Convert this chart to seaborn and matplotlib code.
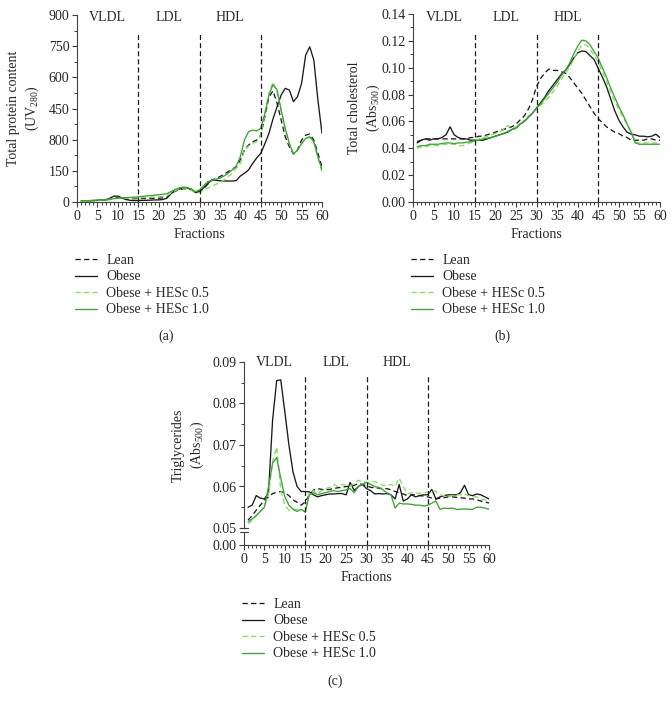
import matplotlib; matplotlib.use("Agg")
import matplotlib.pyplot as plt
from matplotlib.ticker import MultipleLocator, FormatStrFormatter
import seaborn as sns

sns.set_style("ticks")
plt.rcParams["font.family"] = ["Liberation Serif", "DejaVu Serif"]
plt.rcParams["mathtext.fontset"] = "custom"
plt.rcParams["mathtext.rm"] = "Liberation Serif"

# ── data ───────────────────────────────────────────────────────────────────────
fractions = list(range(1, 61))
groups = ["Lean", "Obese", "Obese + HESc 0.5", "Obese + HESc 1.0"]
regions = ["VLDL", "LDL", "HDL"]
region_centres = [7.5, 22.5, 37.5]
region_bounds = [15, 30, 45]

# (a) total protein content, UV280
lean_a = [3, 4, 5, 6, 8, 9, 10, 12, 18, 20, 18, 15, 15, 16, 17, 17, 17, 18, 18, 18,
          20, 22, 40, 52, 58, 64, 64, 58, 48, 50, 65, 85, 106, 112, 122, 134, 146, 158, 170, 202,
          250, 274, 290, 298, 322, 410, 505, 535, 475, 395, 314, 266, 231, 250, 298, 322, 327, 298, 234, 170]
obese_a = [5, 5, 6, 7, 8, 9, 10, 18, 28, 28, 20, 12, 8, 7, 7, 8, 8, 9, 10, 10,
           12, 18, 40, 55, 62, 66, 66, 62, 45, 50, 68, 88, 106, 105, 102, 101, 101, 101, 103, 125,
           138, 154, 185, 212, 234, 280, 330, 400, 459, 515, 547, 539, 483, 507, 571, 707, 747, 683, 491, 330]
hesc05_a = [2, 3, 4, 5, 7, 9, 11, 13, 16, 18, 18, 18, 19, 19, 20, 21, 22, 23, 24, 25,
            27, 30, 42, 54, 62, 68, 66, 56, 45, 45, 58, 66, 77, 85, 93, 106, 122, 138, 162, 186,
            250, 269, 282, 290, 322, 419, 523, 578, 530, 435, 346, 279, 231, 247, 279, 306, 311, 285, 210, 146]
hesc10_a = [5, 6, 7, 8, 9, 10, 12, 14, 16, 18, 20, 21, 22, 23, 25, 27, 29, 31, 33, 35,
            37, 40, 50, 60, 68, 72, 70, 62, 50, 58, 78, 98, 104, 110, 114, 125, 138, 154, 173, 218,
            298, 338, 346, 342, 354, 427, 515, 565, 539, 443, 354, 282, 231, 250, 282, 306, 314, 290, 218, 154]
yticks_a = [0, 150, 300, 450, 600, 750, 900]
yticklabels_a = ["0", "150", "800", "450", "600", "750", "900"]

# (b) total cholesterol, Abs500
lean_b = [0.045, 0.046, 0.047, 0.047, 0.047, 0.047, 0.047, 0.047, 0.047, 0.047,
          0.047, 0.047, 0.047, 0.048, 0.048, 0.049, 0.049, 0.050, 0.051, 0.052,
          0.053, 0.054, 0.055, 0.056, 0.058, 0.061, 0.064, 0.069, 0.076, 0.086,
          0.092, 0.096, 0.099, 0.098, 0.098, 0.097, 0.096, 0.093, 0.089, 0.085,
          0.081, 0.076, 0.071, 0.066, 0.062, 0.059, 0.056, 0.054, 0.052, 0.051,
          0.049, 0.048, 0.046, 0.046, 0.046, 0.046, 0.047, 0.047, 0.046, 0.046]
obese_b = [0.044, 0.046, 0.047, 0.046, 0.047, 0.047, 0.048, 0.050, 0.056, 0.050,
           0.048, 0.047, 0.047, 0.046, 0.046, 0.046, 0.046, 0.047, 0.048, 0.049,
           0.050, 0.051, 0.052, 0.054, 0.055, 0.058, 0.060, 0.063, 0.066, 0.070,
           0.074, 0.078, 0.083, 0.087, 0.091, 0.095, 0.098, 0.102, 0.107, 0.111,
           0.1125, 0.112, 0.109, 0.106, 0.0995, 0.093, 0.086, 0.077, 0.068, 0.061,
           0.056, 0.052, 0.0505, 0.050, 0.049, 0.049, 0.0485, 0.049, 0.0505, 0.048]
hesc05_b = [0.040, 0.041, 0.041, 0.042, 0.042, 0.042, 0.043, 0.043, 0.043, 0.043,
            0.042, 0.042, 0.043, 0.044, 0.045, 0.047, 0.048, 0.049, 0.050, 0.051,
            0.052, 0.054, 0.057, 0.055, 0.056, 0.058, 0.061, 0.064, 0.066, 0.069,
            0.072, 0.075, 0.078, 0.082, 0.086, 0.091, 0.096, 0.100, 0.106, 0.112,
            0.117, 0.117, 0.114, 0.109, 0.104, 0.097, 0.090, 0.082, 0.075, 0.069,
            0.063, 0.058, 0.052, 0.044, 0.044, 0.044, 0.044, 0.044, 0.044, 0.044]
hesc10_b = [0.041, 0.042, 0.042, 0.043, 0.043, 0.043, 0.0435, 0.044, 0.044, 0.0435,
            0.044, 0.044, 0.0445, 0.045, 0.0455, 0.046, 0.047, 0.0475, 0.048, 0.049,
            0.050, 0.051, 0.0525, 0.054, 0.055, 0.058, 0.060, 0.063, 0.066, 0.070,
            0.073, 0.077, 0.081, 0.085, 0.089, 0.094, 0.098, 0.103, 0.110, 0.116,
            0.1205, 0.120, 0.117, 0.112, 0.107, 0.100, 0.093, 0.085, 0.078, 0.071,
            0.065, 0.058, 0.052, 0.044, 0.043, 0.043, 0.043, 0.043, 0.043, 0.043]

# (c) triglycerides, Abs500
lean_c = [0.0519, 0.0530, 0.0543, 0.0555, 0.0567, 0.0575, 0.0583, 0.0586, 0.0588, 0.0585,
          0.0578, 0.0568, 0.0562, 0.0555, 0.0563, 0.0580, 0.0591, 0.0595, 0.0593, 0.0592,
          0.0593, 0.0595, 0.0597, 0.0598, 0.0600, 0.0600, 0.0603, 0.0607, 0.0605, 0.0602,
          0.0598, 0.0597, 0.0596, 0.0595, 0.0595, 0.0592, 0.0588, 0.0585, 0.0582, 0.0578,
          0.0580, 0.0580, 0.0578, 0.0577, 0.0575, 0.0572, 0.0570, 0.0572, 0.0573, 0.0575,
          0.0575, 0.0574, 0.0573, 0.0572, 0.0570, 0.0570, 0.0568, 0.0565, 0.0563, 0.0560]
obese_c = [0.0550, 0.0555, 0.0578, 0.0572, 0.0570, 0.0585, 0.0760, 0.0855, 0.0857, 0.0780,
           0.0700, 0.0635, 0.0600, 0.0588, 0.0588, 0.0587, 0.0580, 0.0575, 0.0578, 0.0580,
           0.0582, 0.0582, 0.0583, 0.0583, 0.0580, 0.0610, 0.0590, 0.0600, 0.0605, 0.0595,
           0.0590, 0.0582, 0.0583, 0.0582, 0.0583, 0.0580, 0.0570, 0.0605, 0.0565, 0.0570,
           0.0580, 0.0575, 0.0578, 0.0580, 0.0580, 0.0593, 0.0570, 0.0575, 0.0578, 0.0580,
           0.0580, 0.0580, 0.0585, 0.0603, 0.0580, 0.0578, 0.0582, 0.0580, 0.0575, 0.0570]
hesc05_c = [0.0510, 0.0518, 0.0530, 0.0540, 0.0552, 0.0580, 0.0660, 0.0695, 0.0591, 0.0555,
            0.0543, 0.0545, 0.0545, 0.0544, 0.0540, 0.0585, 0.0590, 0.0582, 0.0590, 0.0595,
            0.0598, 0.0605, 0.0600, 0.0605, 0.0603, 0.0600, 0.0608, 0.0615, 0.0612, 0.0610,
            0.0610, 0.0612, 0.0608, 0.0603, 0.0602, 0.0605, 0.0600, 0.0620, 0.0600, 0.0582,
            0.0585, 0.0585, 0.0583, 0.0585, 0.0586, 0.0590, 0.0588, 0.0580, 0.0578, 0.0575,
            0.0578, 0.0580, 0.0580, 0.0582, 0.0578, 0.0575, 0.0575, 0.0570, 0.0568, 0.0565]
hesc10_c = [0.0515, 0.0522, 0.0530, 0.0540, 0.0550, 0.0599, 0.0656, 0.0670, 0.0620, 0.0575,
            0.0555, 0.0545, 0.0540, 0.0545, 0.0538, 0.0580, 0.0585, 0.0580, 0.0583, 0.0585,
            0.0588, 0.0590, 0.0588, 0.0590, 0.0592, 0.0595, 0.0585, 0.0600, 0.0605, 0.0610,
            0.0605, 0.0600, 0.0598, 0.0592, 0.0585, 0.0580, 0.0548, 0.0560, 0.0558, 0.0558,
            0.0557, 0.0555, 0.0555, 0.0553, 0.0555, 0.0560, 0.0565, 0.0545, 0.0548, 0.0547,
            0.0548, 0.0545, 0.0545, 0.0546, 0.0545, 0.0545, 0.0550, 0.0550, 0.0548, 0.0545]

# ── styling ────────────────────────────────────────────────────────────────────
STYLES = {
    "Lean":             dict(color="#1a1a1a", dashes=(4, 2.5)),
    "Obese":            dict(color="#1a1a1a", dashes=()),
    "Obese + HESc 0.5": dict(color="#86dc5c", dashes=(4, 2.5)),
    "Obese + HESc 1.0": dict(color="#3aa535", dashes=()),
}
SPINE = "#404040"
FS = 10
W, H = 672, 708


def px_box(left, top, right, bottom):
    return [left / W, 1 - bottom / H, (right - left) / W, (bottom - top) / H]


def draw_series(ax, series):
    for name, vals in zip(groups, series):
        st = STYLES[name]
        sns.lineplot(x=fractions, y=vals, ax=ax, color=st["color"], lw=0.95,
                     label=name, legend=False)
        if st["dashes"]:
            ax.lines[-1].set_dashes(st["dashes"])


def style_axis(ax, show_x=True):
    sns.despine(ax=ax)
    for s in ("left", "bottom"):
        ax.spines[s].set_color(SPINE); ax.spines[s].set_linewidth(0.8)
    ax.tick_params(which="major", length=3.5, width=0.8, color=SPINE, labelsize=FS, pad=2)
    ax.tick_params(which="minor", length=2, width=0.7, color=SPINE)
    ax.set_xlim(0, 60)
    ax.xaxis.set_major_locator(MultipleLocator(5))
    ax.xaxis.set_minor_locator(MultipleLocator(1))
    if show_x:
        ax.set_xlabel("Fractions", fontsize=FS, labelpad=4)
    else:
        ax.spines["bottom"].set_visible(False)
        ax.tick_params(axis="x", which="both", bottom=False, labelbottom=False)


def regions_and_bounds(ax, ytext, ymax):
    for x in region_bounds:
        ax.axvline(x, ymax=ymax, color="#1a1a1a", lw=0.9, dashes=(4, 2.5))
    for x, t in zip(region_centres, regions):
        ax.text(x, ytext, t, transform=ax.get_xaxis_transform(), ha="center",
                va="center", fontsize=FS)


def add_legend(fig, ax, x, y):
    h, l = ax.get_legend_handles_labels()
    fig.legend(h, l, loc="upper left", bbox_to_anchor=(x / W, 1 - y / H), frameon=False,
               fontsize=FS, borderpad=0, borderaxespad=0, handlelength=1.6,
               handletextpad=0.65, labelspacing=0.25)


fig = plt.figure(figsize=(6.72, 7.08), dpi=100)

# (a)
ax_a = fig.add_axes(px_box(77, 15, 322, 202))
draw_series(ax_a, [lean_a, obese_a, hesc05_a, hesc10_a])
style_axis(ax_a)
ax_a.set_ylim(0, 900)
ax_a.set_yticks(yticks_a, yticklabels_a)
ax_a.yaxis.set_minor_locator(MultipleLocator(75))
ax_a.set_ylabel("Total protein content\n(UV$_{280}$)", fontsize=FS, linespacing=1.3)
ax_a.yaxis.set_label_coords(-0.145, 0.5)
regions_and_bounds(ax_a, 0.985, 0.905)
add_legend(fig, ax_a, 75, 254)
fig.text(166 / W, 1 - 336 / H, "(a)", ha="center", va="center", fontsize=FS)

# (b)
ax_b = fig.add_axes(px_box(413, 14, 660, 202))
draw_series(ax_b, [lean_b, obese_b, hesc05_b, hesc10_b])
style_axis(ax_b)
ax_b.set_ylim(0, 0.14)
ax_b.yaxis.set_major_locator(MultipleLocator(0.02))
ax_b.yaxis.set_minor_locator(MultipleLocator(0.01))
ax_b.yaxis.set_major_formatter(FormatStrFormatter("%.2f"))
ax_b.set_ylabel("Total cholesterol\n(Abs$_{500}$)", fontsize=FS, linespacing=1.3)
ax_b.yaxis.set_label_coords(-0.127, 0.5)
regions_and_bounds(ax_b, 0.98, 0.905)
add_legend(fig, ax_b, 411, 254)
fig.text(502 / W, 1 - 336 / H, "(b)", ha="center", va="center", fontsize=FS)

# (c) broken y axis: 0.05-0.09 on top, 0.00 below
ax_c = fig.add_axes(px_box(244, 362, 489, 528))
ax_c0 = fig.add_axes(px_box(244, 532, 489, 545), sharex=ax_c)
draw_series(ax_c, [lean_c, obese_c, hesc05_c, hesc10_c])
style_axis(ax_c, show_x=False)
style_axis(ax_c0)
ax_c.set_ylim(0.05, 0.09)
ax_c.yaxis.set_major_locator(MultipleLocator(0.01))
ax_c.yaxis.set_minor_locator(MultipleLocator(0.005))
ax_c.yaxis.set_major_formatter(FormatStrFormatter("%.2f"))
ax_c0.set_ylim(0, 0.01)
ax_c0.set_yticks([0])
ax_c0.yaxis.set_major_formatter(FormatStrFormatter("%.2f"))
ax_c.set_ylabel("Triglycerides\n(Abs$_{500}$)", fontsize=FS, linespacing=1.3)
ax_c.yaxis.set_label_coords(-0.155, 0.5)
regions_and_bounds(ax_c, 1.0, 0.915)
for x in region_bounds:
    ax_c0.axvline(x, color="#1a1a1a", lw=0.9, dashes=(4, 2.5))
kw = dict(color=SPINE, lw=0.8, clip_on=False)
ax_c.plot([-0.018, 0.018], [0, 0], transform=ax_c.transAxes, **kw)
ax_c0.plot([-0.018, 0.018], [1, 1], transform=ax_c0.transAxes, **kw)
add_legend(fig, ax_c, 242, 598)
fig.text(335 / W, 1 - 681 / H, "(c)", ha="center", va="center", fontsize=FS)

fig.savefig("out.png", dpi=100)
plt.close(fig)
